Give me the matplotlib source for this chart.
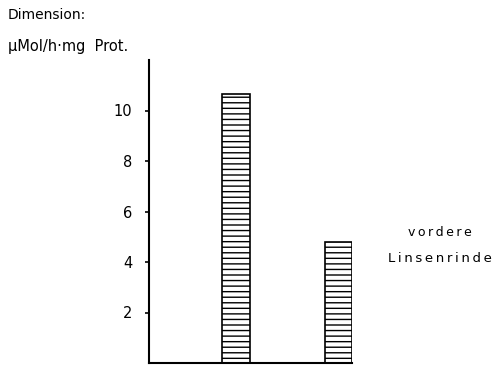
import matplotlib
matplotlib.use("Agg")
import matplotlib.pyplot as plt

categories = ["Bar A", "Bar B"]
values = [10.65, 4.8]
yticks = [2, 4, 6, 8, 10]

plt.rcParams['hatch.linewidth'] = 1.0
fig = plt.figure(figsize=(4.92, 3.65), dpi=100)
W, H = 492, 365
ax_left, ax_right, ax_top, ax_bottom = 149, 352, 60, 363
ax = fig.add_axes([ax_left / W, 1 - ax_bottom / H, (ax_right - ax_left) / W, (ax_bottom - ax_top) / H])

x = list(range(len(categories)))
ax.bar(x, values, width=0.27, color="white", edgecolor="black", linewidth=1.2, hatch="---")

ax.set_xlim(-0.849, 1.132)
ax.set_ylim(0, 12.0)
ax.set_yticks(yticks)
ax.set_yticklabels([str(t) for t in yticks], fontsize=10.5, family="DejaVu Sans")
ax.tick_params(axis="y", direction="out", length=3, width=1.2, pad=9)
ax.set_xticks([])
for s in ["top", "right"]:
    ax.spines[s].set_visible(False)
ax.spines["left"].set_linewidth(1.5)
ax.spines["bottom"].set_linewidth(1.5)

fig.text(8 / W, 1 - 15 / H, "Dimension:", fontsize=10, va="center", ha="left")
fig.text(8 / W, 1 - 46 / H, "µMol/h·mg  Prot.", fontsize=10.5, va="center", ha="left")
fig.text(440 / W, 1 - 232 / H, "v\u2009o\u2009r\u2009d\u2009e\u2009r\u2009e", fontsize=9, va="center", ha="center")
fig.text(440 / W, 1 - 258 / H, "L\u2009i\u2009n\u2009s\u2009e\u2009n\u2009r\u2009i\u2009n\u2009d\u2009e", fontsize=9.5, va="center", ha="center")

fig.savefig("out.png", dpi=100)
